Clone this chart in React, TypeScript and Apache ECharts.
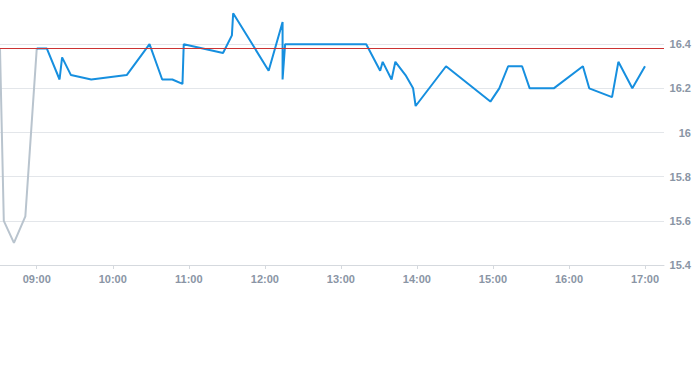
import React, { useEffect, useRef } from "react";
import * as echarts from "echarts";

const preTimes = ["08:31", "08:34", "08:42", "08:51", "09:00"];
const preValues = [16.38, 15.6, 15.5, 15.62, 16.38];

const dayTimes = [
  "09:00", "09:08", "09:18", "09:20", "09:27", "09:43", "10:11", "10:29", "10:39", "10:47",
  "10:55", "10:56", "11:27", "11:34", "11:35", "12:03", "12:14", "12:14", "12:16", "13:20",
  "13:31", "13:33", "13:40", "13:43", "13:51", "13:57", "13:59", "14:23", "14:58", "15:05",
  "15:12", "15:23", "15:29", "15:48", "16:11", "16:16", "16:34", "16:39", "16:50", "17:00",
];
const dayValues = [
  16.38, 16.38, 16.24, 16.34, 16.26, 16.24, 16.26, 16.4, 16.24, 16.24,
  16.22, 16.4, 16.36, 16.44, 16.54, 16.28, 16.5, 16.24, 16.4, 16.4,
  16.28, 16.32, 16.24, 16.32, 16.26, 16.2, 16.12, 16.3, 16.14, 16.2,
  16.3, 16.3, 16.2, 16.2, 16.3, 16.2, 16.16, 16.32, 16.2, 16.3,
];
const hourTicks = ["09:00", "10:00", "11:00", "12:00", "13:00", "14:00", "15:00", "16:00", "17:00"];
const prevClose = 16.38;
const axisStart = "08:31";
const axisEnd = "17:15";

const toMin = (s: string) => {
  const [h, m] = s.split(":").map(Number);
  return h * 60 + m;
};
const fmt = (v: number) => {
  const h = Math.floor(v / 60);
  const m = Math.round(v - h * 60);
  return `${String(h).padStart(2, "0")}:${String(m).padStart(2, "0")}`;
};

export default function App() {
  const ref = useRef<HTMLDivElement>(null);
  useEffect(() => {
    if (!ref.current) return;
    const chart = echarts.init(ref.current, undefined, { renderer: "svg" });
    const labelColor = "#8a95a5";
    const grid = "#e3e6ea";
    const tickVals = hourTicks.map(toMin);
    chart.setOption({
      animation: false,
      grid: { left: 0, right: 29, top: 0, bottom: 100, outerBoundsMode: "none", containLabel: false },
      xAxis: {
        type: "value",
        min: toMin(axisStart),
        max: toMin(axisEnd),
        splitLine: { show: false },
        axisLine: { show: true, lineStyle: { color: "#d5d9de" } },
        axisTick: { show: true, customValues: tickVals, length: 4, lineStyle: { color: "#d5d9de" } },
        axisLabel: {
          customValues: tickVals,
          formatter: (v: number) => fmt(v),
          color: labelColor,
          fontSize: 11,
          fontFamily: "Liberation Sans, Arial, sans-serif",
          fontWeight: "bold",
          margin: 8,
        },
      },
      yAxis: {
        type: "value",
        position: "right",
        min: 15.4,
        max: 16.6,
        interval: 0.2,
        axisLine: { show: false },
        axisTick: { show: false },
        splitLine: { lineStyle: { color: [grid, grid, grid, grid, grid, grid, "rgba(0,0,0,0)"] } },
        axisLabel: {
          showMaxLabel: false,
          color: labelColor,
          fontSize: 11,
          fontFamily: "Liberation Sans, Arial, sans-serif",
          fontWeight: "bold",
          align: "right",
          margin: 27,
          formatter: (v: number) => String(parseFloat(v.toFixed(2))),
        },
      },
      series: [
        {
          type: "line",
          data: preTimes.map((t, i) => [toMin(t), preValues[i]]),
          showSymbol: false,
          lineStyle: { color: "#b9c4ce", width: 2 },
          itemStyle: { color: "#b9c4ce" },
        },
        {
          type: "line",
          data: dayTimes.map((t, i) => [toMin(t), dayValues[i]]),
          showSymbol: false,
          lineStyle: { color: "#168fdf", width: 2 },
          itemStyle: { color: "#168fdf" },
          markLine: {
            silent: true,
            symbol: ["none", "none"],
            label: { show: false },
            lineStyle: { color: "#cc3333", width: 1, type: "solid" },
            data: [{ yAxis: prevClose }],
          },
        },
      ],
    });
    return () => chart.dispose();
  }, []);
  return (
    <div
      ref={ref}
      style={{ position: "fixed", left: 0, top: 0, width: 693, height: 365, background: "#fff" }}
    />
  );
}
